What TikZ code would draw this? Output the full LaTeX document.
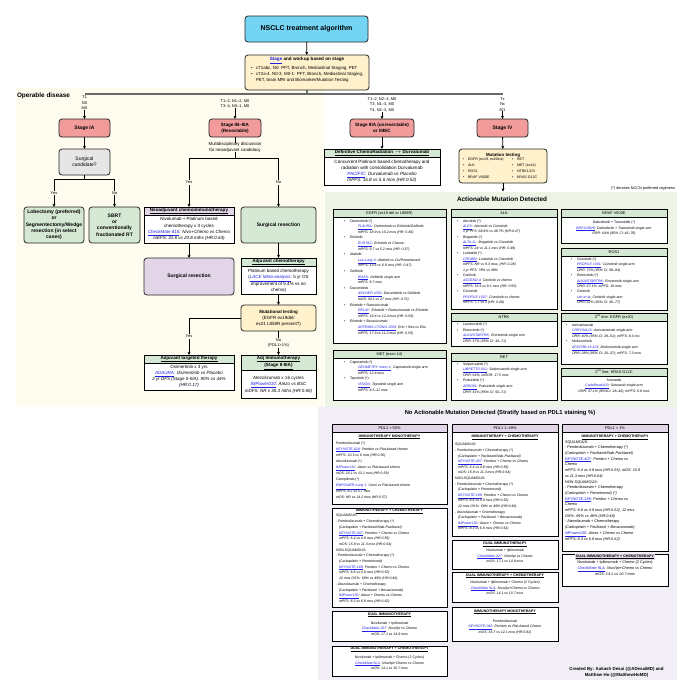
\documentclass[tikz,border=0pt]{standalone}
\usepackage{fontspec}
\setmainfont{Liberation Sans}
\usetikzlibrary{arrows.meta}
\definecolor{cyanc}{HTML}{74D4F4}
\definecolor{yelc}{HTML}{FFF1CB}
\definecolor{salc}{HTML}{F19C9A}
\definecolor{greyc}{HTML}{E6E6E6}
\definecolor{grnc}{HTML}{D5E8D4}
\definecolor{purc}{HTML}{E1D5E7}
\definecolor{creamc}{HTML}{FEFBEF}
\definecolor{gbgc}{HTML}{EDF3E5}
\definecolor{lavc}{HTML}{F1EFF5}
\definecolor{linkc}{HTML}{1F1FE8}
\definecolor{shc}{HTML}{9A9A9A}
\definecolor{glc}{HTML}{6A6A6A}
\newcommand{\lnk}[1]{\textcolor{linkc}{\underline{\textit{#1}}}}
\newcommand{\lnkb}[1]{\textcolor{linkc}{\underline{#1}}}
\newcommand{\trl}[2]{\lnk{#1}\textit{#2}}
\newcommand{\bul}[1][6pt]{\makebox[#1][l]{\textbullet}}
\newcommand{\sbi}[1][14pt]{\hspace*{#1}}
\newcommand{\fsT}{\fontsize{3.5}{5.6}\selectfont}
\newcommand{\fsH}{\fontsize{3.9}{4.5}\selectfont}
\newcommand{\fsB}{\fontsize{5}{6.3}\selectfont}
\newcommand{\fsS}{\fontsize{4.5}{6.1}\selectfont}
\newcommand{\tabbox}[5]{%
  \fill[shc] (#2+1.3,#3+1.3) rectangle (#4+1.3,#5+1.3);
  \node[draw=black,line width=0.9pt,fill=white,anchor=north west,minimum width=#4-#2,minimum height=#5-#3] (#1) at (#2,#3) {};}
\newcommand{\tabhdr}[6]{%
  \node[draw=black,line width=0.6pt,fill=#5,anchor=north west,minimum width=#4-#2,minimum height=8,align=center,font=\fsH] (#1) at (#2,#3) {#6};}
\begin{document}
\begin{tikzpicture}[x=1pt,y=-1pt,
  every node/.style={inner sep=0pt,outer sep=0pt},
  rbox/.style={draw=black!85,line width=0.8pt,rounded corners=3pt,align=center},
  conn/.style={draw=black,line width=0.8pt},
  arr/.style={conn,-{Stealth[length=3.2pt,width=3pt]}},
  gl/.style={draw=glc,line width=1.6pt},
  lbl/.style={align=center,font=\fontsize{4}{5.6}\selectfont},
  yn/.style={fill=creamc,inner sep=0.8pt,align=center,font=\fontsize{4}{5}\selectfont},
  body/.style={align=left,font=\fsT},
  cbody/.style={align=center,font=\fsT},
  sub/.style={font=\fontsize{3.6}{4}\selectfont\bfseries}]
\useasboundingbox (0,0) rectangle (677,680);
\fill[white] (0,0) rectangle (677,680);
% regions
\fill[creamc] (16,88) rectangle (324,407);
\fill[gbgc] (325,192) rectangle (677,407);
\fill[lavc] (318,407) rectangle (677,680);
\node[anchor=west,font=\fontsize{6.4}{7}\selectfont\bfseries] (opd) at (17,96) {Operable disease};
% title and staging
\node[rbox,fill=cyanc,minimum width=123,minimum height=26,font=\fontsize{7}{8}\selectfont\bfseries] (title) at (306.5,29) {NSCLC treatment algorithm};
\node[rbox,fill=yelc,minimum width=124,minimum height=35] (stage) at (307,72.5) {};
\node[font=\fontsize{4.6}{5.6}\selectfont\bfseries] (stageT) at (307,60.5) {\lnkb{Stage} and workup based on stage};
\node[anchor=north west,align=left,font=\fontsize{4.4}{5.6}\selectfont] (stageB) at (251,66.8) {\bul[5pt]cT1abc, N0: PFT, Bronch, Mediastinal Staging, PET\\ \bul[5pt]cT2a-4, N0-3, M0-1: PFT, Bronch, Mediastinal Staging,\\ \sbi[5pt]PET, brain MRI and Biomarker/Mutation Testing};
\draw[arr] (title) -- (stage);
\coordinate (hub) at (307,94);
\coordinate (hL) at (84.5,94);
\coordinate (hR) at (502.5,94);
\draw[gl] (stage.south) -- (hub);
\draw[gl] (hL) -- (hR);
% branch labels
\node[lbl] (lIA) at (84.5,103) {T1\\N0\\M0};
\node[lbl] (lIB) at (235,104) {T1--2, N1--2, M0\\T3--4, N0--1, M0};
\node[lbl] (lIII) at (382,104.5) {T1--2, N2--3, M0\\T3, N1--3, M0\\T4, N2--3, M0};
\node[lbl] (lIV) at (502.5,104.5) {Tx\\Nx\\M1};
% stage boxes
\node[rbox,fill=salc,minimum width=51,minimum height=18,font=\fontsize{5}{6}\selectfont\bfseries] (sIA) at (84.5,128) {Stage IA};
\node[rbox,fill=salc,minimum width=52,minimum height=18,font=\fontsize{4.6}{5.8}\selectfont\bfseries] (sIB) at (235,128) {Stage IB--IIIA\\(Resectable)};
\node[rbox,fill=salc,minimum width=64,minimum height=18,font=\fontsize{4.6}{5.8}\selectfont\bfseries] (sIII) at (382,128) {Stage IIIA (unresectable)\\or IIIB/C};
\node[rbox,fill=salc,minimum width=51,minimum height=18,font=\fontsize{5}{6}\selectfont\bfseries] (sIV) at (502.5,128) {Stage IV};
\draw[arr] (lIA) -- (sIA);
\draw[arr] (lIB) -- (sIB);
\draw[arr] (lIII) -- (sIII);
\draw[arr] (lIV) -- (sIV);
% Stage IA branch
\node[rbox,fill=greyc,minimum width=51,minimum height=26,font=\fsB] (surg) at (84.5,162) {Surgical\\candidate?};
\draw[arr] (sIA) -- (surg);
\coordinate (sj) at (84.5,179);
\coordinate (sjL) at (54,179);
\coordinate (sjR) at (114.5,179);
\node[rbox,fill=grnc,minimum width=60,minimum height=36,font=\fsB\bfseries] (lob) at (54,225) {Lobectomy (preferred)\\or\\Segmentectomy/Wedge\\resection (in select\\cases)};
\node[rbox,fill=grnc,minimum width=51,minimum height=36,font=\fsB\bfseries] (sbrt) at (114.5,225) {SBRT\\or\\conventionally\\fractionated RT};
\draw[conn] (surg) -- (sj);
\draw[conn] (sjL) -- (sjR);
\draw[arr] (sjL) -- node[yn]{Yes} (lob);
\draw[arr] (sjR) -- node[yn]{No} (sbrt);
% Stage IB-IIIA branch
\node[fill=creamc,align=center,font=\fontsize{4.4}{5.8}\selectfont] (mdt) at (235,147.5) {Multidisciplinary discussion\\for neoadjuvant candidacy};
\coordinate (mj) at (235,158);
\coordinate (mjL) at (189,158);
\coordinate (mjR) at (278.5,158);
\draw[conn] (sIB) -- (mdt);
\draw[conn] (mdt) -- (mj);
\draw[conn] (mjL) -- (mjR);
\tabbox{neo}{144}{207}{234}{243}
\tabhdr{neoH}{144}{207}{234}{purc}{\fontsize{4.6}{5}\selectfont\bfseries\underline{Neoadjuvant chemoimmunotherapy}}
\node[anchor=north,align=center,font=\fontsize{4.5}{6.3}\selectfont] (neoB) at (189,217.5) {Nivolumab + Platinum based\\chemotherapy x 3 cycles\\\trl{CheckMate 816}{: Nivo+Chemo vs Chemo}\\\textit{mEFS: 31.6 vs 20.8 mths (HR:0.63)}};
\node[rbox,fill=grnc,minimum width=75,minimum height=36,font=\fsB\bfseries] (sres) at (278.5,225) {Surgical resection};
\draw[arr] (mjL) -- node[yn]{Yes} (neo.north);
\draw[arr] (mjR) -- node[yn]{No} (sres);
\node[rbox,fill=purc,minimum width=90,minimum height=37,font=\fsB\bfseries] (sres2) at (189,276.5) {Surgical resection};
\draw[arr] (neo) -- (sres2);
\tabbox{adjc}{241}{258}{316}{294}
\tabhdr{adjcH}{241}{258}{316}{grnc}{\fontsize{4.6}{5}\selectfont\bfseries\underline{Adjuvant chemotherapy}}
\node[anchor=north,align=center,font=\fontsize{4.5}{6}\selectfont] (adjcB) at (278.5,269.2) {Platinum based chemotherapy\\(\lnk{LACE Meta-analysis}: 5 yr OS\\improvement of 5.4\% vs no\\chemo)};
\draw[arr] (sres) -- (adjc);
\node[rbox,fill=yelc,minimum width=75,minimum height=26,font=\fontsize{4.5}{6}\selectfont] (mut) at (278.5,318) {\textbf{Mutational testing}\\(EGFR ex19del/\\ex21 L858R present?)};
\draw[arr] (adjc) -- (mut);
\coordinate (mutL) at (189,318);
\tabbox{adjt}{144}{355}{234}{390}
\tabhdr{adjtH}{144}{355}{234}{grnc}{\fontsize{4.6}{5}\selectfont\bfseries\underline{Adjuvant targeted therapy}}
\node[anchor=north,align=center,font=\fontsize{4.5}{6}\selectfont] (adjtB) at (189,365.3) {Osimertinib x 3 yrs\\\trl{ADAURA}{: Osimertinib vs Placebo}\\\textit{2 yr DFS (Stage II-IIIA): 90\% vs 44\%}\\\textit{(HR:0.17)}};
\tabbox{adji}{241}{355}{316}{398}
\node[draw=black,line width=0.6pt,fill=grnc,anchor=north west,minimum width=75,minimum height=15,align=center,font=\fontsize{4.6}{6}\selectfont\bfseries] (adjiH) at (241,355) {\underline{Adj Immunotherapy}\\\underline{(Stage II-IIIA)}};
\node[anchor=north,align=center,font=\fontsize{4.5}{6.2}\selectfont] (adjiB) at (278.5,376.5) {Atezolizumab x 16 cycles\\\trl{IMPower010}{: Atezo vs BSC}\\\textit{mDFS: NR v 35.3 mths (HR:0.66)}};
\draw[conn] (mut.west) -- (mutL);
\draw[arr] (mutL) -- node[yn]{Yes} (adjt);
\draw[arr] (mut) -- node[yn]{No\\(PDL1>1\%)} (adji);
% Stage IIIA unresectable
\tabbox{crt}{324}{149}{440}{185}
\tabhdr{crtH}{324}{149}{440}{grnc}{\fontsize{4.6}{5}\selectfont\bfseries\underline{Definitive ChemoRadiation $\rightarrow$ Durvalumab}}
\node[anchor=north,align=center,font=\fontsize{4.6}{5.8}\selectfont] (crtB) at (382,160.5) {Concurrent Platinum based chemotherapy and\\radiation with consolidation Durvalumab\\\trl{PACIFIC}{: Durvalumab vs Placebo}\\\textit{mPFS: 16.8 vs 5.6 mos (HR:0.52)}};
\draw[arr] (sIII) -- (crt);
% Stage IV
\node[rbox,fill=yelc,minimum width=88,minimum height=34] (mtest) at (503,166) {};
\node[font=\fontsize{4.4}{5}\selectfont\bfseries] (mtT) at (503,155) {Mutation testing};
\node[anchor=north west,align=left,font=\fontsize{3.6}{6}\selectfont] (mtL) at (463,157.8) {\bul[5pt]EGFR (ex19, ex20ins)\\\bul[5pt]ALK\\\bul[5pt]ROS1\\\bul[5pt]BRAF V600E};
\node[anchor=north west,align=left,font=\fontsize{3.6}{6}\selectfont] (mtR) at (512,157.8) {\bul[5pt]RET\\\bul[5pt]MET (ex14)\\\bul[5pt]NTRK1/2/3\\\bul[5pt]KRAS G12C};
\draw[arr] (sIV) -- (mtest);
\coordinate (actTop) at (503,191.5);
\draw[arr] (mtest) -- (actTop);
\node[anchor=east,font=\fontsize{3.8}{4}\selectfont] (nccn) at (675,189) {(*) denotes NCCN preferred regimens};
\node[font=\fontsize{6.4}{7}\selectfont\bfseries] (actT) at (502,199) {Actionable Mutation Detected};
% EGFR
\tabbox{egfr}{333}{209}{446}{343}
\tabhdr{egfrH}{333}{209}{446}{grnc}{EGFR (ex19 del or L858R)}
\node[body,anchor=north west] (egfrB) at (344,219.5) {\bul Osimertinib (*)\\
\sbi\trl{FLAURA}{: Osimertinib vs Erlotinib/Gefitinib}\\
\sbi\textit{mPFS: 18.9 vs 10.2 mos (HR: 0.46)}\\
\bul Erlotinib\\
\sbi\trl{EURTAC}{: Erlotinib vs Chemo}\\
\sbi\textit{mPFS: 9.7 vs 5.2 mos (HR: 0.37)}\\
\bul Afatinib\\
\sbi\trl{Lux-Lung 3}{: Afatinib vs Cis/Pemetrexed}\\
\sbi\textit{mPFS: 13.6 vs 6.9 mos (HR: 0.47)}\\
\bul Gefitinib\\
\sbi\trl{IPASS}{: Gefitinib single arm}\\
\sbi\textit{mPFS: 9.7 mos}\\
\bul Dacomitinib\\
\sbi\trl{ARCHER 1050}{: Dacomitinib vs Gefitinib}\\
\sbi\textit{mOS: 34.1 vs 27 mos (HR: 0.76)}\\
\bul Erlotinib + Ramucirumab\\
\sbi\trl{RELAY}{: Erlotinib + Ramucirumab vs Erlotinib}\\
\sbi\textit{mPFS: 19.4 vs 12.4 mos (HR: 0.59)}\\
\bul Erlotinib + Bevacizumab\\
\sbi\trl{ARTEMIS-CTONG 1509}{: Erlo + Bev vs Erlo}\\
\sbi\textit{mPFS: 17.9 vs 11.2 mos (HR: 0.55)}};
% ALK
\tabbox{alk}{451}{209}{557}{309}
\tabhdr{alkH}{451}{209}{557}{grnc}{ALK}
\node[align=left,font=\fontsize{3.5}{5.45}\selectfont,anchor=north west] (alkB) at (457,219.5) {\bul Alectinib (*)\\
\sbi[6pt]\trl{ALEX}{: Alectinib vs Crizotinib}\\
\sbi[6pt]\textit{1 yr PFS: 68.4\% vs 48.7\% (HR:0.47)}\\
\bul Brigatinib (*)\\
\sbi[6pt]\trl{ALTA-1L}{: Brigatinib vs Crizotinib}\\
\sbi[6pt]\textit{mPFS: 24 vs 11.1 mos (HR: 0.49)}\\
\bul Lorlatinib (*)\\
\sbi[6pt]\trl{CROWN}{: Lorlatinib vs Crizotinib}\\
\sbi[6pt]\textit{mPFS: NR vs 9.3 mos, (HR: 0.28)}\\
\sbi[6pt]\textit{1 yr PFS: 78\% vs 39\%}\\
\bul Ceritinib\\
\sbi[6pt]\trl{ASCEND-4}{: Ceritinib vs chemo}\\
\sbi[6pt]\textit{mPFS: 16.6 vs 8.1 mos (HR: 0.55)}\\
\bul Crizotinib\\
\sbi[6pt]\trl{PROFILE 1007}{: Crizotinib vs chemo}\\
\sbi[6pt]\textit{mPFS: 7.7 vs 3 (HR: 0.49)}};
% BRAF
\tabbox{braf}{561}{209}{667}{243}
\tabhdr{brafH}{561}{209}{667}{grnc}{BRAF V600E}
\node[cbody,anchor=north] (brafB) at (614,221) {Dabrafenib + Trametinib (*)\\\trl{BRF113928}{: Dabrafenib + Trametinib single arm}\\\textit{ORR: 64\% (95\% CI: 46--79)}};
% ROS1
\tabbox{ros}{561}{248}{667}{310}
\tabhdr{rosH}{561}{248}{667}{grnc}{ROS1}
\node[align=left,font=\fontsize{3.5}{5.4}\selectfont,anchor=north west] (rosB) at (571,258) {\bul Crizotinib (*)\\
\sbi[6pt]\trl{PROFILE 1001}{: Crizotinib single arm}\\
\sbi[6pt]\textit{ORR: 72\% (95\% CI: 58--84)}\\
\bul Entrectinib (*)\\
\sbi[6pt]\trl{ALKA/STARTRK}{: Entrectinib single arm}\\
\sbi[6pt]\textit{ORR: 67.1\%, mPFS: 19 mos}\\
\bul Ceritinib\\
\sbi[6pt]\trl{Lim et al}{: Ceritinib single arm}\\
\sbi[6pt]\textit{ORR: 62\% (95\% CI: 45--77)}};
% EGFR ex20
\tabbox{ex20}{561}{313}{667}{364}
\tabhdr{ex20H}{561}{313}{667}{grnc}{2\textsuperscript{nd} line: EGFR (ex20)}
\node[align=left,font=\fontsize{3.5}{5.6}\selectfont,anchor=north west] (ex20B) at (566,323.5) {\bul Amivantamab\\
\sbi[6pt]\trl{CHRYSALIS}{: Amivantamab single arm}\\
\sbi[6pt]\textit{ORR: 40\% (95\% CI: 29--51); mPFS: 8.3 mo}\\
\bul Mobocertinib\\
\sbi[6pt]\trl{AP32788-15-101}{: Mobocertinib single arm}\\
\sbi[6pt]\textit{ORR: 28\% (95\% CI: 20--37); mPFS: 7.3 mos}};
% KRAS
\tabbox{kras}{561}{368}{667}{400}
\tabhdr{krasH}{561}{368}{667}{grnc}{2\textsuperscript{nd} line: KRAS G12C}
\node[cbody,anchor=north] (krasB) at (614,378.5) {Sotorasib\\\trl{CodeBreak100}{: Sotorasib single arm}\\\textit{ORR: 37.1\% (95\%CI, 28--46); mPFS: 6.8 mos}};
% NTRK
\tabbox{ntrk}{451}{313}{557}{346}
\tabhdr{ntrkH}{451}{313}{557}{grnc}{NTRK}
\node[body,anchor=north west] (ntrkB) at (457,323) {\bul Larotrectinib (*)\\
\bul Entrectinib (*)\\
\sbi[6pt]\trl{ALKA/STARTRK}{: Entrectinib single arm}\\
\sbi[6pt]\textit{ORR: 57\% (95\% CI: 43--71)}};
% MET
\tabbox{met}{333}{350}{446}{400}
\tabhdr{metH}{333}{350}{446}{grnc}{MET (exon 14)}
\node[body,anchor=north west] (metB) at (344,360.5) {\bul Capmatinib (*)\\
\sbi\trl{GEOMETRY mono-1}{: Capmatinib single arm}\\
\sbi\textit{mPFS: 12.4 mos}\\
\bul Tepotinib (*)\\
\sbi\trl{VISION}{: Tepotinib single arm}\\
\sbi\textit{mPFS: 8.5--11 mos}};
% RET
\tabbox{ret}{451}{353}{557}{400}
\tabhdr{retH}{451}{353}{557}{grnc}{RET}
\node[body,anchor=north west] (retB) at (457,362.5) {\bul Selpercatinib (*)\\
\sbi[6pt]\trl{LIBRETTO-001}{: Selpercatinib single arm}\\
\sbi[6pt]\textit{ORR: 64\%, mDOR: 17.5 mos}\\
\bul Pralsetinib (*)\\
\sbi[6pt]\trl{ARROW}{: Pralsetinib single arm}\\
\sbi[6pt]\textit{ORR: 61\% (95\% CI: 50--71)}};
% No actionable
\node[font=\fontsize{5.8}{7}\selectfont\bfseries] (noT) at (500,413) {No Actionable Mutation Detected (Stratify based on PDL1 staining \%)};
% Column A: PDL1 > 50%
\tabbox{a1}{332}{424}{447}{504}
\tabhdr{a1H}{332}{424}{447}{purc}{PDL1 > 50\%}
\node[sub] (a1S) at (389.5,437) {\underline{IMMUNOTHERAPY MONOTHERAPY}};
\node[align=left,font=\fontsize{3.5}{6.1}\selectfont,anchor=north west] (a1B) at (336,441.5) {Pembrolizumab (*)\\
\trl{KEYNOTE-024}{: Pembro vs Plat-based chemo}\\
\textit{mPFS: 10.3 vs 6 mos (HR:0.50)}\\
Atezolizumab (*)\\
\trl{IMPower110}{: Atezo vs Plat-based chemo}\\
\textit{mOS: 20.1 vs 13.1 mos (HR:0.59)}\\
Cemiplimab (*)\\
\trl{EMPOWER-Lung 1}{: Cemi vs Plat-based chemo}\\
\textit{mPFS: 8.2 vs 5.7 mos}\\
\textit{mOS: NR vs 14.2 mos (HR:0.57)}};
\tabbox{a2}{332}{508}{447}{607}
\node[sub] (a2S) at (389.5,511.5) {\underline{IMMUNOTHERAPY + CHEMOTHERAPY}};
\node[align=left,font=\fontsize{3.5}{5.7}\selectfont,anchor=north west] (a2B) at (336,514.5) {SQUAMOUS:\\
- Pembrolizumab + Chemotherapy (*)\\
\sbi[3pt]\textit{(Carboplatin + Paclitaxel/Nab-Paclitaxel)}\\
\sbi[3pt]\trl{KEYNOTE-407}{: Pembro + Chemo vs Chemo}\\
\sbi[3pt]\textit{mPFS: 6.4 vs 4.8 mos (HR:0.56)}\\
\sbi[3pt]\textit{mOS: 15.9 vs 11.3 mos (HR:0.64)}\\
NON-SQUAMOUS:\\
- Pembrolizumab + Chemotherapy (*)\\
\sbi[3pt]\textit{(Carboplatin + Pemetrexed)}\\
\sbi[3pt]\trl{KEYNOTE-189}{: Pembro + Chemo vs Chemo}\\
\sbi[3pt]\textit{mPFS: 8.8 vs 4.9 mos (HR:0.52)}\\
\sbi[3pt]\textit{12 mos OS\%: 69\% vs 49\% (HR:0.49)}\\
- Atezolizumab + Chemotherapy\\
\sbi[3pt]\textit{(Carboplatin + Paclitaxel + Bevacizumab)}\\
\sbi[3pt]\trl{IMPower150}{: Atezo + Chemo vs Chemo}\\
\sbi[3pt]\textit{mPFS: 8.3 vs 6.8 mos (HR:0.62)}};
\tabbox{a3}{332}{611}{447}{641}
\node[sub] (a3S) at (389.5,615) {\underline{DUAL IMMUNOTHERAPY}};
\node[cbody,anchor=north] (a3B) at (389.5,621.5) {Nivolumab + Ipilimumab\\\trl{CheckMate 227}{: Nivo/Ipi vs Chemo}\\\textit{mOS: 17.1 vs 14.9 mos}};
\tabbox{a4}{332}{646}{447}{676}
\node[sub] (a4S) at (389.5,649.5) {\underline{DUAL IMMUNOTHERAPY + CHEMOTHERAPY}};
\node[cbody,anchor=north] (a4B) at (389.5,656) {Nivolumab + Ipilimumab + Chemo (2 Cycles)\\\trl{CheckMate 9LA}{: Nivo/Ipi+Chemo vs Chemo}\\\textit{mOS: 14.1 vs 10.7 mos}};
% Column B: PDL1 1-49%
\tabbox{b1}{452}{424}{558}{536}
\tabhdr{b1H}{452}{424}{558}{purc}{PDL1 1--49\%}
\node[sub] (b1S) at (505,437.5) {\underline{IMMUNOTHERAPY + CHEMOTHERAPY}};
\node[align=left,font=\fontsize{3.5}{5.6}\selectfont,anchor=north west] (b1B) at (455,443.5) {SQUAMOUS:\\
- Pembrolizumab + Chemotherapy (*)\\
\sbi[3pt]\textit{(Carboplatin + Paclitaxel/Nab-Paclitaxel)}\\
\sbi[3pt]\trl{KEYNOTE-407}{: Pembro + Chemo vs Chemo}\\
\sbi[3pt]\textit{mPFS: 6.4 vs 4.8 mos (HR:0.56)}\\
\sbi[3pt]\textit{mOS: 15.9 vs 11.3 mos (HR:0.64)}\\
NON-SQUAMOUS:\\
- Pembrolizumab + Chemotherapy (*)\\
\sbi[3pt]\textit{(Carboplatin + Pemetrexed)}\\
\sbi[3pt]\trl{KEYNOTE-189}{: Pembro + Chemo vs Chemo}\\
\sbi[3pt]\textit{mPFS: 8.8 vs 4.9 mos (HR:0.52)}\\
\sbi[3pt]\textit{12 mos OS\%: 69\% vs 49\% (HR:0.49)}\\
- Atezolizumab + Chemotherapy\\
\sbi[3pt]\textit{(Carboplatin + Paclitaxel + Bevacizumab)}\\
\sbi[3pt]\trl{IMPower150}{: Atezo + Chemo vs Chemo}\\
\sbi[3pt]\textit{mPFS: 8.3 vs 6.8 mos (HR:0.62)}};
\tabbox{b2}{452}{540}{558}{569}
\node[sub] (b2S) at (505,544.5) {\underline{DUAL IMMUNOTHERAPY}};
\node[cbody,anchor=north] (b2B) at (505,549) {Nivolumab + Ipilimumab\\\trl{CheckMate 227}{: Nivo/Ipi vs Chemo}\\\textit{mOS: 17.1 vs 14.9 mos}};
\tabbox{b3}{452}{572}{558}{602}
\node[sub] (b3S) at (505,576) {\underline{DUAL IMMUNOTHERAPY + CHEMOTHERAPY}};
\node[cbody,anchor=north] (b3B) at (505,581) {Nivolumab + Ipilimumab + Chemo (2 Cycles)\\\trl{CheckMate 9LA}{: Nivo/Ipi+Chemo vs Chemo}\\\textit{mOS: 14.1 vs 10.7 mos}};
\tabbox{b4}{452}{607}{558}{641}
\node[sub] (b4S) at (505,612) {\underline{IMMUNOTHERAPY MONOTHERAPY}};
\node[cbody,anchor=north] (b4B) at (505,619.5) {Pembrolizumab\\\trl{KEYNOTE-042}{: Pembro vs Plat-based Chemo}\\\textit{mOS: 16.7 vs 12.1 mos (HR:0.81)}};
% Column C: PDL1 < 1%
\tabbox{c1}{562}{424}{668}{551}
\tabhdr{c1H}{562}{424}{668}{purc}{PDL1 < 1\%}
\node[sub] (c1S) at (615,437.5) {\underline{IMMUNOTHERAPY + CHEMOTHERAPY}};
\node[align=left,font=\fontsize{3.8}{5.7}\selectfont,anchor=north west] (c1B) at (565,440.5) {SQUAMOUS:\\
- Pembrolizumab + Chemotherapy (*)\\
\textit{(Carboplatin + Paclitaxel/Nab-Paclitaxel)}\\
\trl{KEYNOTE-407}{: Pembro + Chemo vs}\\
\textit{Chemo}\\
\textit{mPFS: 6.4 vs 4.8 mos (HR:0.56), mOS: 15.9}\\
\textit{vs 11.3 mos (HR:0.64)}\\
NON-SQUAMOUS:\\
- Pembrolizumab + Chemotherapy\\
\textit{(Carboplatin + Pemetrexed) (*)}\\
\trl{KEYNOTE-189}{: Pembro + Chemo vs}\\
\textit{Chemo}\\
\textit{mPFS: 8.8 vs 4.9 mos (HR:0.52), 12 mos}\\
\textit{OS\%: 69\% vs 49\% (HR:0.49)}\\
- Atezolizumab + Chemotherapy\\
\textit{(Carboplatin + Paclitaxel + Bevacizumab)}\\
\trl{IMPower150}{: Atezo + Chemo vs Chemo}\\
\textit{mPFS: 8.3 vs 6.8 mos (HR:0.62)}};
\tabbox{c2}{562}{554}{668}{586}
\node[sub,fill=purc,inner sep=0.6pt] (c2S) at (615,557) {\underline{DUAL IMMUNOTHERAPY + CHEMOTHERAPY}};
\node[align=center,font=\fontsize{3.8}{5.8}\selectfont,anchor=north] (c2B) at (615,561) {Nivolumab + Ipilimumab + Chemo (2 Cycles)\\\trl{CheckMate 9LA}{: Nivo/Ipi+Chemo vs Chemo}\\\textit{mOS: 14.1 vs 10.7 mos}};
% credits
\node[align=center,font=\fontsize{4.4}{6.5}\selectfont\bfseries] (cred) at (616.5,672.5) {Created By: Aakash Desai (@ADesaiMD) and\\Matthew Ho (@MatthewHoMD)};
\end{tikzpicture}
\end{document}
